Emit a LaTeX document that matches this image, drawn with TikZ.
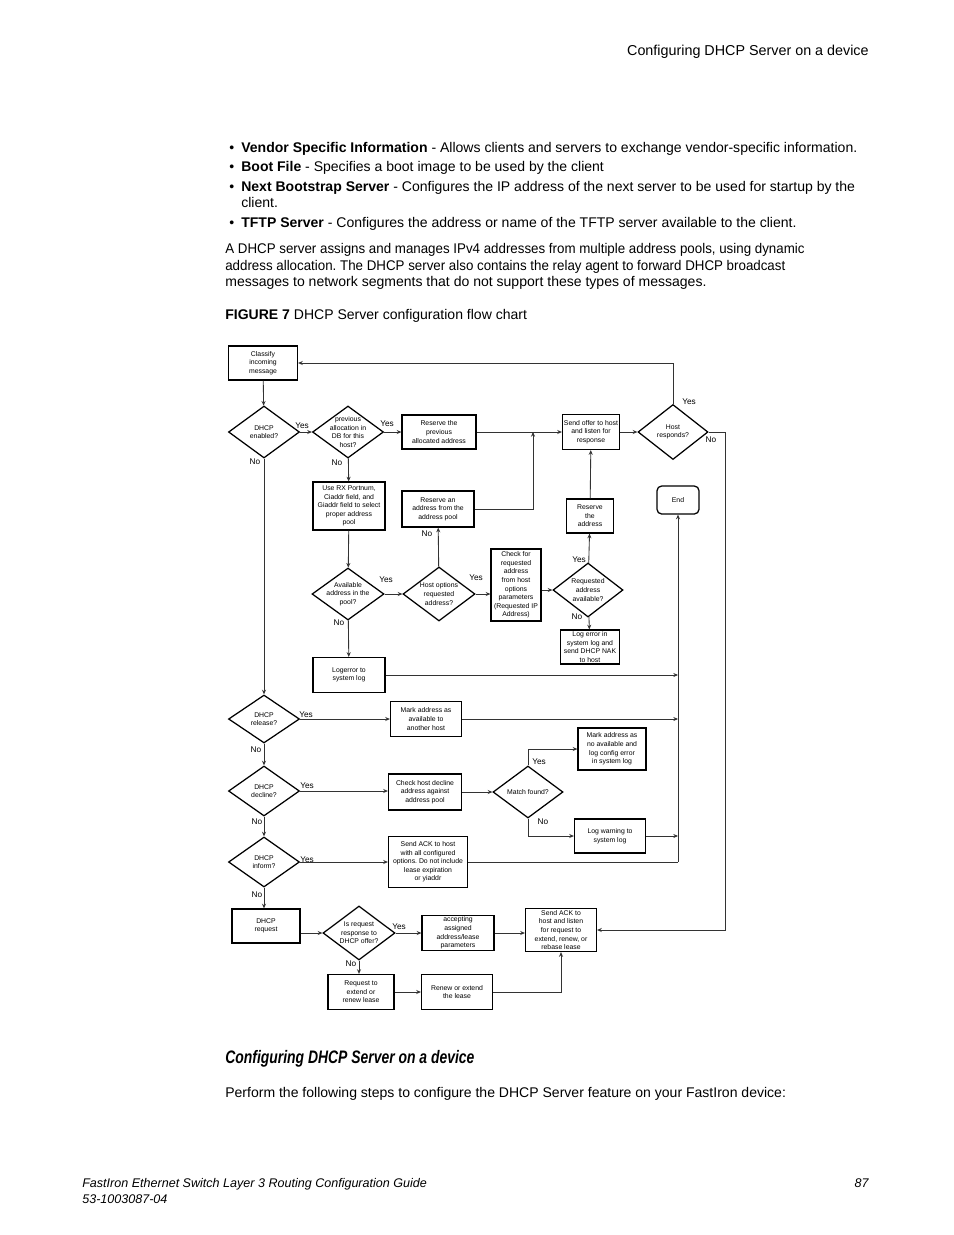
\documentclass[tikz,border=0pt]{standalone}
\usepackage{fontspec}
\setmainfont{Liberation Sans}
\usetikzlibrary{shapes.geometric,arrows.meta}
\frenchspacing

\begin{document}
\begin{tikzpicture}[x=0.6415pt,y=-0.6415pt,
    box/.style 2 args={draw,line width=0.8pt,inner sep=0pt,minimum width=#1*0.6415pt,minimum height=#2*0.6415pt,align=center,font=\fontsize{4.4}{5.5}\selectfont},
    dia/.style 2 args={draw,diamond,line width=0.8pt,inner sep=0pt,minimum width=#1*0.6415pt,minimum height=#2*0.6415pt},
    lbl/.style={inner sep=0pt,align=center,font=\fontsize{4.4}{5.5}\selectfont},
    yn/.style={inner sep=0pt,font=\fontsize{5.3}{6}\selectfont},
    arr/.style={-{Stealth[length=3pt,width=2.6pt]},line width=0.55pt,black!80},
    ln/.style={line width=0.55pt,black!80},
    body/.style={anchor=base west,inner sep=0pt,font=\fontsize{9}{11}\selectfont}]
    \useasboundingbox (0,0) rectangle (954,1235);

    % page text
    \node[body,anchor=base east,font=\fontsize{9.2}{11}\selectfont] (hdr) at (869,55) {Configuring DHCP Server on a device};
    \node[body] (b1) at (229,152) {•};
    \node[body] (t1) at (241,152) {\textbf{Vendor Specific Information} - Allows clients and servers to exchange vendor-specific information.};
    \node[body] (b2) at (229,171) {•};
    \node[body] (t2) at (241,171) {\textbf{Boot File} - Specifies a boot image to be used by the client};
    \node[body] (b3) at (229,191) {•};
    \node[body] (t3) at (241,191) {\textbf{Next Bootstrap Server} - Configures the IP address of the next server to be used for startup by the};
    \node[body] (t3b) at (241,207) {client.};
    \node[body] (b4) at (229,227) {•};
    \node[body] (t4) at (241,227) {\textbf{TFTP Server} - Configures the address or name of the TFTP server available to the client.};
    \node[body] (p1) at (225,253) {\scalebox{0.95}[1]{A DHCP server assigns and manages IPv4 addresses from multiple address pools, using dynamic}};
    \node[body] (p2) at (225,270) {\scalebox{0.95}[1]{address allocation. The DHCP server also contains the relay agent to forward DHCP broadcast}};
    \node[body] (p3) at (225,286) {messages to network segments that do not support these types of messages.};
    \node[body] (fig) at (225,319) {\textbf{FIGURE 7} DHCP Server configuration flow chart};

    \node[body] (hd) at (225,1063) {\scalebox{0.77}[1]{\fontsize{11.6}{13}\selectfont\bfseries\itshape Configuring DHCP Server on a device}};
    \node[body] (p4) at (225,1097) {Perform the following steps to configure the DHCP Server feature on your FastIron device:};
    \node[body,font=\fontsize{8.05}{10}\selectfont\itshape] (f1) at (82,1187) {FastIron Ethernet Switch Layer 3 Routing Configuration Guide};
    \node[body,font=\fontsize{8.05}{10}\selectfont\itshape] (f2) at (82,1203) {53-1003087-04};
    \node[body,anchor=base east,font=\fontsize{8.05}{10}\selectfont\itshape] (f3) at (869,1187) {87};

    % flow chart: boxes
    \node[box={69}{34}] (cl) at (263,363) {Classify\\incoming\\message};
    \node[box={74}{34}] (rp) at (439,432) {Reserve the\\previous\\allocated address};
    \node[box={57}{35}] (so) at (591,432) {Send offer to host\\and listen for\\response};
    \node[box={72}{48}] (ux) at (349,506) {Use RX Portnum,\\Ciaddr field, and\\Giaddr field to select\\proper address\\pool};
    \node[box={72}{36}] (ra) at (438,509) {Reserve an\\address from the\\address pool};
    \node[box={47}{34}] (rt) at (590,516) {Reserve\\the\\address};
    \node[box={42}{28},rounded corners=3pt] (end) at (678,500) {End};
    \node[box={50}{72}] (cf) at (516,585) {Check for\\requested\\address\\from host\\options\\parameters\\(Requested IP\\Address)};
    \node[box={59}{34}] (le) at (590,647) {Log error in\\system log and\\send DHCP NAK\\to host};
    \node[box={72}{35}] (lg) at (349,675) {Logerror to\\system log};
    \node[box={71}{35}] (ma) at (426,719) {Mark address as\\available to\\another host};
    \node[box={73}{36}] (ch) at (425,792) {Check host decline\\address against\\address pool};
    \node[box={68}{42}] (mn) at (612,749) {Mark address as\\no available and\\log config error\\in system log};
    \node[box={71}{34}] (lw) at (610,836) {Log warning to\\system log};
    \node[box={79}{51}] (sa) at (428,862) {Send ACK to host\\with all configured\\options. Do not include\\lease expiration\\or yiaddr};
    \node[box={68}{34}] (dr) at (266,926) {DHCP\\request};
    \node[box={72}{35}] (ac) at (458,933) {accepting\\assigned\\address/lease\\parameters};
    \node[box={71}{43}] (sk) at (561,930) {Send ACK to\\host and listen\\for request to\\extend, renew, or\\rebase lease};
    \node[box={66}{35}] (re) at (361,992) {Request to\\extend or\\renew lease};
    \node[box={71}{35}] (rn) at (457,992) {Renew or extend\\the lease};

    % flow chart: decisions
    \node[dia={71}{52},label={[lbl]center:{DHCP\\enabled?}}] (en) at (264,432) {};
    \node[dia={71}{52},label={[lbl]center:{previous\\allocation in\\DB for this\\host?}}] (pa) at (348,432) {};
    \node[dia={70}{55},label={[lbl]center:{Host\\responds?}}] (hr) at (673,432) {};
    \node[dia={72}{52},label={[lbl]center:{Available\\address in the\\pool?}}] (av) at (348,594) {};
    \node[dia={72}{54},label={[lbl]center:{Host options\\requested\\address?}}] (ho) at (439,594) {};
    \node[dia={70}{54},label={[lbl]center:{Requested\\address\\available?}}] (rq) at (588,590) {};
    \node[dia={71}{48},label={[lbl]center:{DHCP\\release?}}] (rl) at (264,719) {};
    \node[dia={71}{50},label={[lbl]center:{DHCP\\decline?}}] (dc) at (264,791) {};
    \node[dia={70}{52},label={[lbl]center:{Match found?}}] (mf) at (528,792) {};
    \node[dia={71}{50},label={[lbl]center:{DHCP\\inform?}}] (inf) at (264,862) {};
    \node[dia={72}{54},label={[lbl]center:{Is request\\response to\\DHCP offer?}}] (ir) at (359,933) {};

    % junctions
    \coordinate (jn) at (533,432);
    \coordinate (vb) at (678,862);
    \coordinate (rc) at (725,432);

    % connectors
    \draw[arr] (hr.north) |- (cl.east);
    \draw[arr] (cl) -- (en);
    \draw[arr] (en) -- (pa);
    \draw[arr] (en) -- (rl);
    \draw[arr] (pa) -- (rp);
    \draw[arr] (pa) -- (ux);
    \draw[arr] (rp) -- (so);
    \draw[arr] (ra.east) -| (jn);
    \draw[arr] (rt) -- (so);
    \draw[arr] (so) -- (hr);
    \draw[arr] (hr.east) -- (rc) |- (sk.east);
    \draw[arr] (ux) -- (av);
    \draw[arr] (av) -- (ho);
    \draw[arr] (av) -- (lg);
    \draw[arr] (ho) -- (ra);
    \draw[arr] (ho.east) -- (ho.east -| cf.west);
    \draw[arr] (rq.west -| cf.east) -- (rq.west);
    \draw[arr] (rq) -- (rt);
    \draw[arr] (rq) -- (le);
    \draw[arr] (vb) -- (end);
    \draw[arr] (lg.east) -- (lg.east -| vb);
    \draw[arr] (ma.east) -- (ma.east -| vb);
    \draw[arr] (rl) -- (ma);
    \draw[arr] (rl) -- (dc);
    \draw[arr] (dc.east) -- (dc.east -| ch.west);
    \draw[arr] (ch) -- (mf);
    \draw[arr] (mf.north) |- (mn.west);
    \draw[arr] (mf.south) |- (lw.west);
    \draw[arr] (lw.east) -- (lw.east -| vb);
    \draw[arr] (dc) -- (inf);
    \draw[arr] (inf) -- (sa);
    \draw[ln] (sa.east) -- (vb);
    \draw[arr] (inf.south) -- (inf.south |- dr.north);
    \draw[arr] (ir.west -| dr.east) -- (ir.west);
    \draw[arr] (ir) -- (ac);
    \draw[arr] (ir.south) -- (ir.south |- re.north);
    \draw[arr] (re) -- (rn);
    \draw[arr] (rn.east) -| (sk.south);
    \draw[arr] (ac.east) -- (ac.east -| sk.west);

    % yes / no labels
    \node[yn] (y1) at (302,426) {Yes};
    \node[yn] (n1) at (255,462) {No};
    \node[yn] (y2) at (387,424) {Yes};
    \node[yn] (n2) at (337,463) {No};
    \node[yn] (y3) at (689,402) {Yes};
    \node[yn] (n3) at (711,440) {No};
    \node[yn] (n4) at (427,534) {No};
    \node[yn] (y4) at (386,580) {Yes};
    \node[yn] (n5) at (339,623) {No};
    \node[yn] (y5) at (476,578) {Yes};
    \node[yn] (y6) at (579,560) {Yes};
    \node[yn] (n6) at (577,617) {No};
    \node[yn] (y7) at (306,715) {Yes};
    \node[yn] (n7) at (256,750) {No};
    \node[yn] (y8) at (307,786) {Yes};
    \node[yn] (n8) at (257,822) {No};
    \node[yn] (y9) at (539,762) {Yes};
    \node[yn] (n9) at (543,822) {No};
    \node[yn] (y10) at (307,860) {Yes};
    \node[yn] (n10) at (257,895) {No};
    \node[yn] (y11) at (399,927) {Yes};
    \node[yn] (n11) at (351,964) {No};
\end{tikzpicture}
\end{document}
